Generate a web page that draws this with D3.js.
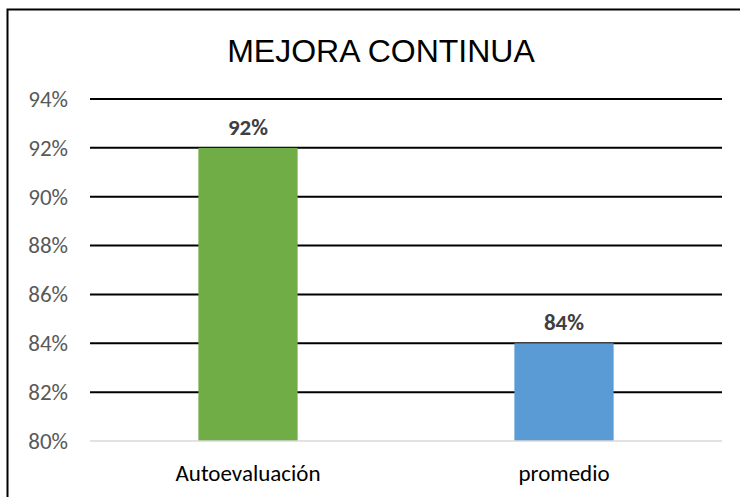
<!DOCTYPE html>
<html>
<head>
<meta charset="utf-8">
<script src="https://cdn.jsdelivr.net/npm/d3@7"></script>
<style>
  body { margin: 0; background: #fff; }
</style>
</head>
<body>
<svg id="chart"></svg>
<script>
const categories = ["Autoevaluación", "promedio"];
const values = [0.92, 0.84];
const barColors = ["#70ad47", "#5b9bd5"];
const yTicks = [0.80, 0.82, 0.84, 0.86, 0.88, 0.90, 0.92, 0.94];

var svgWidth = 740, svgHeight = 497;
var margin = { top: 99, right: 18, bottom: 56, left: 90 };
var width = svgWidth - margin.left - margin.right;
var height = svgHeight - margin.top - margin.bottom;

var svg = d3.select("#chart")
    .attr("width", svgWidth)
    .attr("height", svgHeight);

// outer chart border (runs off the right and bottom edges)
svg.append("rect")
    .attr("x", 7.5).attr("y", 9.5)
    .attr("width", 760).attr("height", 520)
    .attr("fill", "none")
    .attr("stroke", "#000")
    .attr("stroke-width", 2);

svg.append("text")
    .attr("x", 381)
    .attr("y", 62)
    .attr("text-anchor", "middle")
    .attr("font-family", "'Liberation Sans', Arial, sans-serif")
    .attr("font-size", 32)
    .attr("fill", "#000")
    .text("MEJORA CONTINUA");

var g = svg.append("g")
    .attr("transform", "translate(" + margin.left + "," + margin.top + ")");

var x = d3.scaleBand()
    .domain(categories)
    .range([0, width])
    .paddingInner(0.686)
    .paddingOuter(0.343);

var y = d3.scaleLinear()
    .domain([0.80, 0.94])
    .range([height, 0]);

var labelFont = "Carlito, Calibri, Lato, sans-serif";

// gridlines
g.selectAll("line.grid")
    .data(yTicks.filter(function(d) { return d > 0.80; }))
    .enter()
    .append("line")
    .attr("class", "grid")
    .attr("x1", 0).attr("x2", width)
    .attr("y1", function(d) { return y(d); })
    .attr("y2", function(d) { return y(d); })
    .attr("stroke", "#000")
    .attr("stroke-width", 2);

// y axis labels
var yAxis = g.append("g")
    .call(d3.axisLeft(y).tickValues(yTicks).tickFormat(d3.format(".0%")).tickSize(0).tickPadding(22));
yAxis.select(".domain").remove();
yAxis.selectAll("text")
    .attr("font-family", labelFont)
    .attr("font-size", 23)
    .attr("fill", "#595959");

// bars
g.selectAll("rect.bar")
    .data(values)
    .enter()
    .append("rect")
    .attr("class", "bar")
    .attr("x", function(d, i) { return x(categories[i]); })
    .attr("y", function(d) { return y(d); })
    .attr("width", x.bandwidth())
    .attr("height", function(d) { return height - y(d); })
    .attr("fill", function(d, i) { return barColors[i]; });

// baseline
g.append("line")
    .attr("x1", 0).attr("x2", width)
    .attr("y1", height).attr("y2", height)
    .attr("stroke", "#d9d9d9")
    .attr("stroke-width", 1.5);

// x axis labels
var xAxis = g.append("g")
    .attr("transform", "translate(0," + height + ")")
    .call(d3.axisBottom(x).tickSize(0).tickPadding(24));
xAxis.select(".domain").remove();
xAxis.selectAll("text")
    .attr("font-family", labelFont)
    .attr("font-size", 23)
    .attr("fill", "#000");

// data labels
g.selectAll("text.value")
    .data(values)
    .enter()
    .append("text")
    .attr("class", "value")
    .attr("x", function(d, i) { return x(categories[i]) + x.bandwidth() / 2; })
    .attr("y", function(d) { return y(d) - 13; })
    .attr("text-anchor", "middle")
    .attr("font-family", labelFont)
    .attr("font-size", 23)
    .attr("font-weight", "bold")
    .attr("fill", "#404040")
    .text(function(d) { return d3.format(".0%")(d); });
</script>
</body>
</html>
